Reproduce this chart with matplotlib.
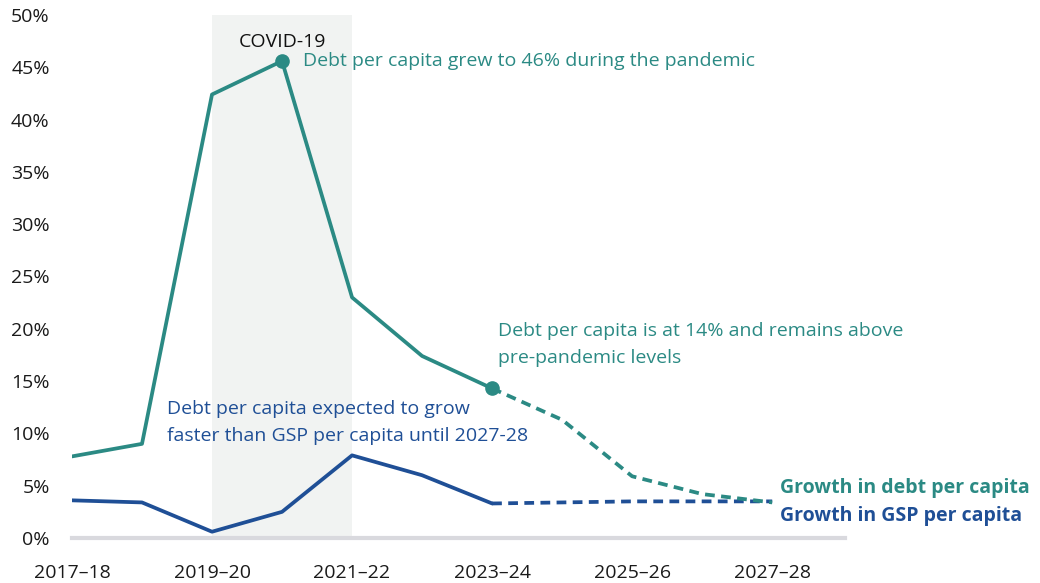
import matplotlib.pyplot as plt
import numpy as np

plt.rcParams["font.family"] = ["Open Sans", "DejaVu Sans"]

YEARS = ["2017–18", "2018–19", "2019–20", "2020–21", "2021–22", "2022–23",
         "2023–24", "2024–25", "2025–26", "2026–27", "2027–28"]
DEBT = [7.8, 9.0, 42.4, 45.6, 23.0, 17.4, 14.3, 11.3, 5.9, 4.2, 3.4]
GSP = [3.6, 3.4, 0.6, 2.5, 7.9, 6.0, 3.3, 3.4, 3.5, 3.5, 3.5]
FORECAST_START = 6  # 2023-24, last actual
COVID_SPAN = (2, 4)  # 2019-20 to 2021-22

TEAL = "#2b8a84"
BLUE = "#1f4f96"

x = np.arange(len(YEARS))

fig = plt.figure(figsize=(10.4, 5.83), dpi=100)
ax = fig.add_axes([0.0692, 0.0772, 0.7433, 0.8971])

ax.axvspan(*COVID_SPAN, ymin=0, ymax=1, color="#f1f3f2", zorder=0, lw=0)

f = FORECAST_START
dash = (0, (2.6, 1.7))
ax.plot(x[:f + 1], DEBT[:f + 1], color=TEAL, lw=2.7, solid_capstyle="round", zorder=3)
ax.plot(x[f:], DEBT[f:], color=TEAL, lw=2.7, ls=dash, zorder=3)
ax.plot(x[:f + 1], GSP[:f + 1], color=BLUE, lw=2.7, solid_capstyle="round", zorder=3)
ax.plot(x[f:], GSP[f:], color=BLUE, lw=2.7, ls=dash, zorder=2)

peak = int(np.argmax(DEBT))
ax.plot([x[peak], x[f]], [DEBT[peak], DEBT[f]], "o", color=TEAL, ms=9.5, zorder=4)

ax.set_xlim(0, 11.04)
ax.set_ylim(0, 50)
ax.set_xticks(x[::2])
ax.set_xticklabels(YEARS[::2])
ax.set_yticks(np.arange(0, 51, 5))
ax.set_yticklabels([f"{v}%" for v in range(0, 51, 5)])
ax.tick_params(axis="both", length=0, labelsize=14, colors="#1a1a1a")
ax.tick_params(axis="x", pad=19)
ax.tick_params(axis="y", pad=16)
for s in ["top", "right", "left"]:
    ax.spines[s].set_visible(False)
ax.spines["bottom"].set_color("#d9d9de")
ax.spines["bottom"].set_linewidth(3)

fs = 14
ax.text(3.0, 47.4, "COVID-19", ha="center", va="center", fontsize=fs, color="#111111")
ax.text(3.3, 45.6, "Debt per capita grew to 46% during the pandemic",
        ha="left", va="center", fontsize=fs, color=TEAL)
ax.text(6.09, 18.5, "Debt per capita is at 14% and remains above\npre-pandemic levels",
        ha="left", va="center", fontsize=fs, color=TEAL, linespacing=1.65)
ax.text(1.36, 11.0, "Debt per capita expected to grow\nfaster than GSP per capita until 2027-28",
        ha="left", va="center", fontsize=fs, color=BLUE, linespacing=1.65)
ax.text(10.11, 4.8, "Growth in debt per capita", ha="left", va="center",
        fontsize=fs, color=TEAL, fontweight="bold")
ax.text(10.11, 2.1, "Growth in GSP per capita", ha="left", va="center",
        fontsize=fs, color=BLUE, fontweight="bold")

fig.savefig("out.png", dpi=100)
